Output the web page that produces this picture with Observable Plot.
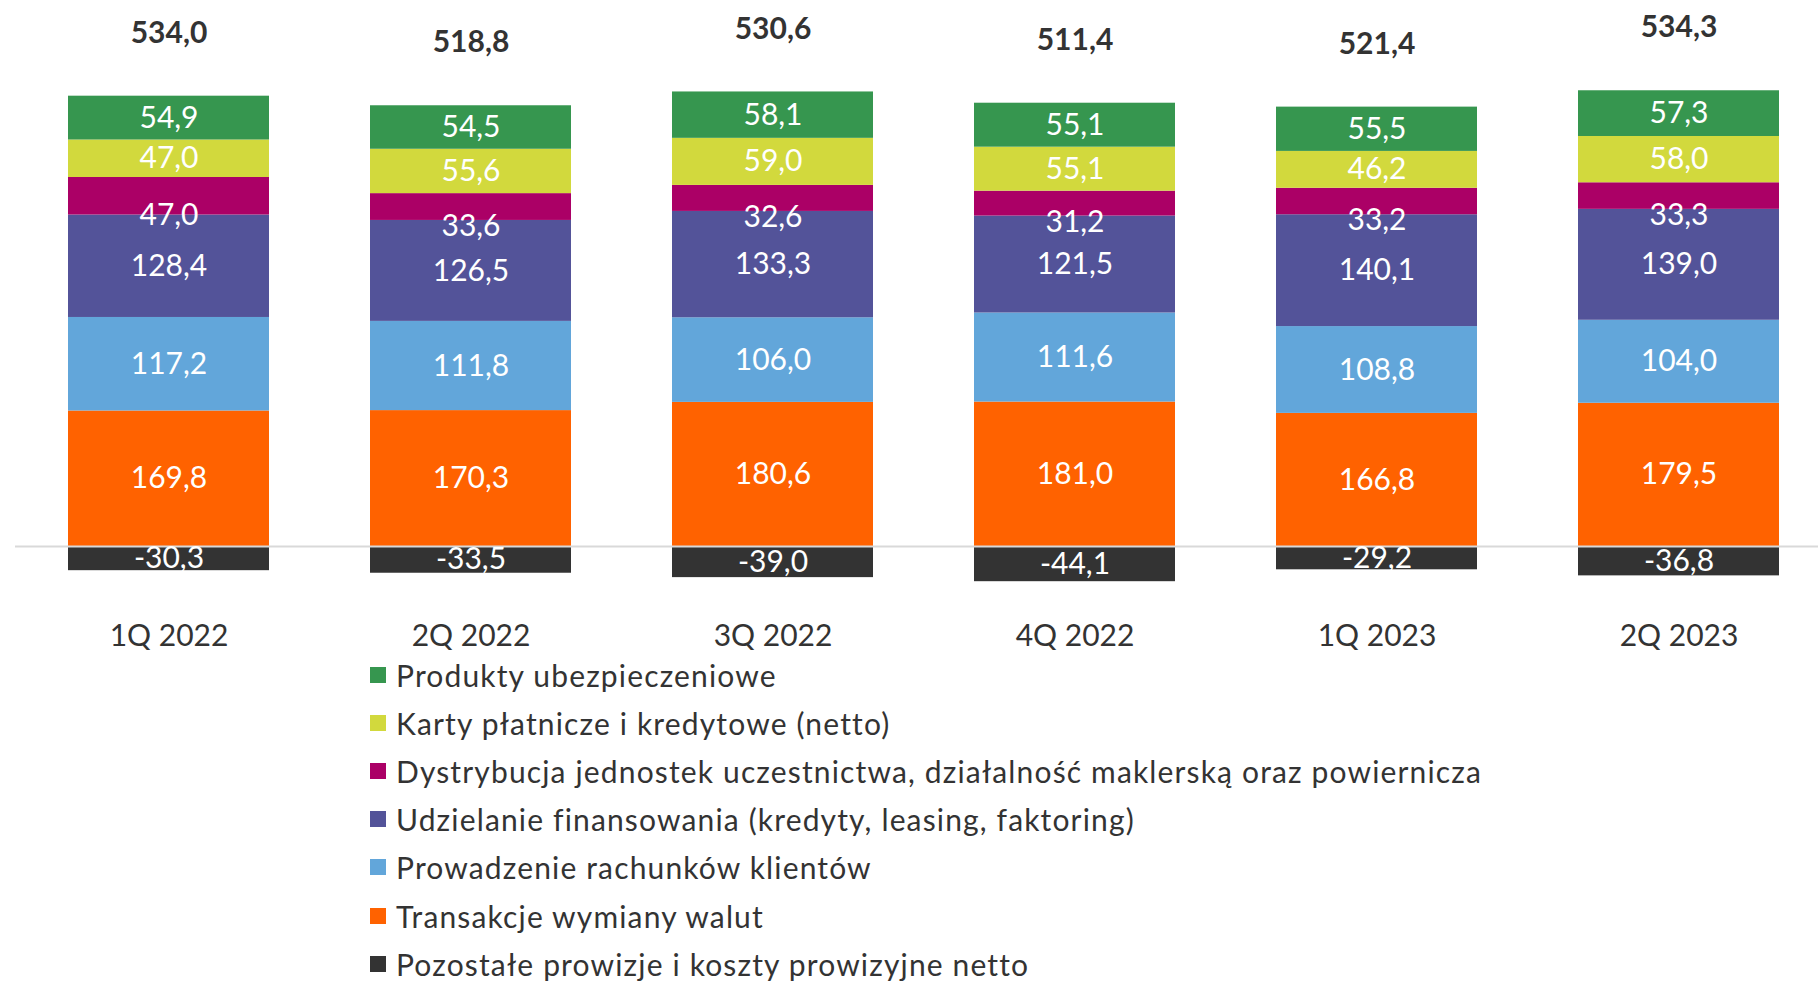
<!DOCTYPE html>
<html><head><meta charset="utf-8">
<script src="https://cdn.jsdelivr.net/npm/d3@7"></script>
<script src="https://cdn.jsdelivr.net/npm/@observablehq/plot@0.6"></script>
<style>
body{margin:0;background:#fff;font-family:Lato,sans-serif;}
#chart{position:relative;width:1818px;height:983px;overflow:hidden;}
#chart svg{display:block;}
#legend{position:absolute;left:370px;top:651px;}
.item{display:flex;align-items:center;height:48.1px;font-size:30px;letter-spacing:1.15px;color:#333;white-space:nowrap;}
.sw{width:16px;height:16px;margin-right:10px;flex:none;}
</style></head><body><div id="chart"><div id="legend"></div></div>
<script>
const quarters = ["1Q 2022", "2Q 2022", "3Q 2022", "4Q 2022", "1Q 2023", "2Q 2023"];
const seriesNames = [
  "Transakcje wymiany walut",
  "Prowadzenie rachunków klientów",
  "Udzielanie finansowania (kredyty, leasing, faktoring)",
  "Dystrybucja jednostek uczestnictwa, działalność maklerską oraz powiernicza",
  "Karty płatnicze i kredytowe (netto)",
  "Produkty ubezpieczeniowe",
  "Pozostałe prowizje i koszty prowizyjne netto"
];
const transakcje  = [169.8, 170.3, 180.6, 181.0, 166.8, 179.5];
const rachunki    = [117.2, 111.8, 106.0, 111.6, 108.8, 104.0];
const finansowanie= [128.4, 126.5, 133.3, 121.5, 140.1, 139.0];
const dystrybucja = [47.0, 33.6, 32.6, 31.2, 33.2, 33.3];
const karty       = [47.0, 55.6, 59.0, 55.1, 46.2, 58.0];
const ubezpieczenia = [54.9, 54.5, 58.1, 55.1, 55.5, 57.3];
const pozostale   = [-30.3, -33.5, -39.0, -44.1, -29.2, -36.8];
const totals      = [534.0, 518.8, 530.6, 511.4, 521.4, 534.3];
const colors = ["#FF6200", "#62A6DA", "#535399", "#AB0066", "#D2D93D", "#36964F", "#333333"];
const legendOrder = [5, 4, 3, 2, 1, 0, 6];

const seriesValues = [transakcje, rachunki, finansowanie, dystrybucja, karty, ubezpieczenia, pozostale];
const rows = [];
seriesNames.forEach((name, s) => quarters.forEach((q, i) => rows.push({q, series: name, value: seriesValues[s][i]})));
const tops = quarters.map((q, i) => d3.sum(seriesValues, arr => Math.max(0, arr[i])));
const fmt = v => v.toFixed(1).replace(".", ",");
const DYS = seriesNames[3];

const chart = Plot.plot({
  width: 1818,
  height: 650,
  marginLeft: 15,
  marginRight: 0,
  marginTop: 0,
  marginBottom: 50,
  x: {domain: quarters, range: [36, 1811], paddingInner: 0.333, paddingOuter: 0.1, label: null},
  y: {domain: [-70, 680], range: [601.86, 3.36], axis: null},
  color: {domain: seriesNames, range: colors},
  style: {fontFamily: "Lato, sans-serif", fontSize: "30px", color: "#333", background: "white"},
  marks: [
    Plot.barY(rows, {x: "q", y: "value", fill: "series"}),
    Plot.ruleY([0], {stroke: "#d9d9d9", strokeWidth: 2}),
    Plot.text(rows, Plot.stackY({x: "q", y: "value", z: "series",
      text: d => d.series === DYS ? null : fmt(d.value), fill: "white", fontSize: 30})),
    Plot.text(rows, Plot.stackY({x: "q", y: "value", z: "series",
      text: d => d.series === DYS ? fmt(d.value) : null, fill: "white", fontSize: 30, dy: 19})),
    Plot.text(quarters, {x: d => d, y: (d, i) => tops[i], text: (d, i) => fmt(totals[i]),
      dy: -63, fontSize: 30, fontWeight: "bold", fill: "#333"}),
    Plot.axisX({tickSize: 0, tickPadding: 24, fontSize: 30, label: null, fill: "#333"})
  ]
});
document.getElementById("chart").prepend(chart);

const legend = document.getElementById("legend");
legendOrder.forEach(s => {
  const item = document.createElement("div");
  item.className = "item";
  const sw = document.createElement("span");
  sw.className = "sw";
  sw.style.background = colors[s];
  const label = document.createElement("span");
  label.textContent = seriesNames[s];
  item.append(sw, label);
  legend.append(item);
});
</script>
</body></html>
